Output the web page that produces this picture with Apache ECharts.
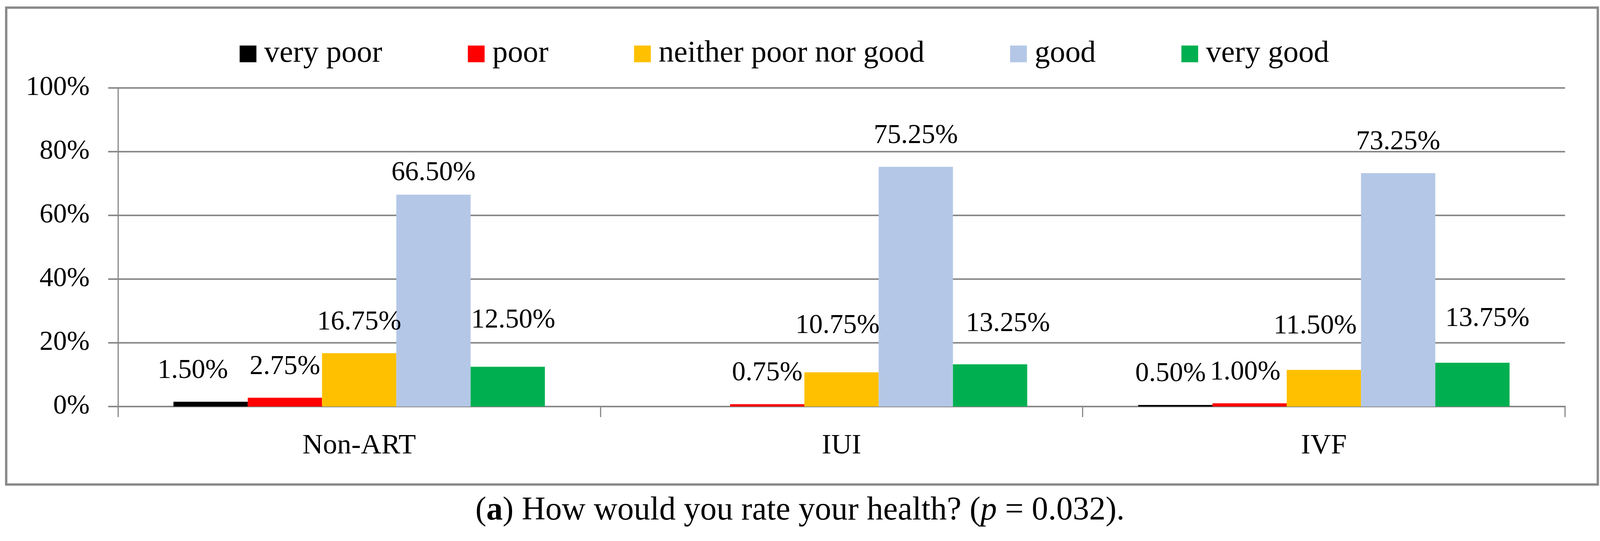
<!DOCTYPE html>
<html>
<head>
<meta charset="utf-8">
<script src="https://cdn.jsdelivr.net/npm/echarts@6/dist/echarts.min.js"></script>
<style>
html,body{margin:0;padding:0;background:#fff;overflow:hidden;}
#chart{width:100vw;height:100vh;}
</style>
</head>
<body>
<div id="chart"></div>
<script>
// ---- data ----
const categories = ['Non-ART', 'IUI', 'IVF'];
const seriesNames = ['very poor', 'poor', 'neither poor nor good', 'good', 'very good'];
const veryPoor = [1.50, null, 0.50];
const poor = [2.75, 0.75, 1.00];
const neither = [16.75, 10.75, 11.50];
const good = [66.50, 75.25, 73.25];
const veryGood = [12.50, 13.25, 13.75];
const yTicks = [0, 20, 40, 60, 80, 100];
const caption = 'How would you rate your health? ';

// ---- styling ----
const colors = ['#000000', '#FF0000', '#FFC000', '#B4C7E7', '#00B050'];
const FONT = '"Liberation Serif", "DejaVu Serif", serif';
const GRAY = '#898989';
// manual label nudges (as in the original figure), per series per category: [dx, dy] in reference px
const labelNudges = [
  [[-49, 0], [0, 0], [-13, 0]],
  [[0, 0], [0, 0], [-12, 0]],
  [[0, 0], [-11, -40], [-24, -33]],
  [[0, 24], [0, 0], [0, 0]],
  [[15, -39], [49, -24], [41, -33]]
];

const allValues = [veryPoor, poor, neither, good, veryGood];

const el = document.getElementById('chart');
const W = el.clientWidth || window.innerWidth;
const H = el.clientHeight || window.innerHeight;
const sx = W / 4393, sy = H / 1384, sf = Math.min(sx, sy);
const X = v => v * sx, Y = v => v * sy, F = v => v * sf;

const chart = echarts.init(el, null, {renderer: 'canvas', width: W, height: H});

const series = allValues.map((vals, si) => ({
  name: seriesNames[si],
  type: 'bar',
  barGap: '0%',
  barCategoryGap: '23%',
  itemStyle: {color: colors[si]},
  label: {
    show: true,
    position: 'top',
    distance: Y(44),
    fontFamily: FONT,
    fontSize: F(75),
    color: '#000',
    formatter: p => (p.value == null ? '' : p.value.toFixed(2) + '%')
  },
  data: vals.map((v, ci) => ({
    value: v,
    label: {offset: [X(labelNudges[si][ci][0]), Y(labelNudges[si][ci][1])]}
  }))
}));

const option = {
  animation: false,
  backgroundColor: '#ffffff',
  color: colors,
  title: {
    left: 'center',
    top: Y(1265),
    padding: 0,
    text: '({b|a}) ' + caption + '({i|p} = 0.032).',
    textStyle: {
      fontFamily: FONT,
      fontSize: F(90),
      fontWeight: 'normal',
      color: '#000',
      rich: {
        b: {fontFamily: FONT, fontSize: F(90), fontWeight: 'bold', color: '#000'},
        i: {fontFamily: FONT, fontSize: F(90), fontStyle: 'italic', color: '#000'}
      }
    }
  },
  legend: {
    data: seriesNames,
    left: X(658),
    top: Y(138) - F(42),
    padding: 0,
    icon: 'rect',
    itemWidth: F(46),
    itemHeight: F(46),
    itemGap: X(235),
    textStyle: {
      fontFamily: FONT,
      fontSize: F(84),
      color: '#000',
      padding: [0, 0, 0, X(16)]
    }
  },
  grid: {
    left: X(324),
    right: X(96),
    top: Y(225),
    bottom: Y(344),
    containLabel: false
  },
  xAxis: {
    type: 'category',
    data: categories,
    axisLine: {show: true, lineStyle: {color: GRAY, width: 4}},
    axisTick: {show: true, length: Y(27), alignWithLabel: false, lineStyle: {color: GRAY, width: 3}},
    axisLabel: {fontFamily: FONT, fontSize: F(78), color: '#000', margin: Y(64)}
  },
  yAxis: {
    type: 'value',
    min: yTicks[0],
    max: yTicks[yTicks.length - 1],
    interval: yTicks[1] - yTicks[0],
    axisLine: {show: true, lineStyle: {color: GRAY, width: 3}},
    axisTick: {show: true, length: X(27), lineStyle: {color: GRAY, width: 4}},
    splitLine: {show: true, lineStyle: {color: GRAY, width: 4}},
    axisLabel: {fontFamily: FONT, fontSize: F(75), color: '#000', margin: X(78), formatter: '{value}%'}
  },
  graphic: [{
    type: 'rect',
    shape: {x: X(17), y: Y(19.5), width: X(4370), height: Y(1220)},
    style: {fill: 'none', stroke: GRAY, lineWidth: 6},
    silent: true,
    z: -1
  }],
  series: series
};

chart.setOption(option);
</script>
</body>
</html>
